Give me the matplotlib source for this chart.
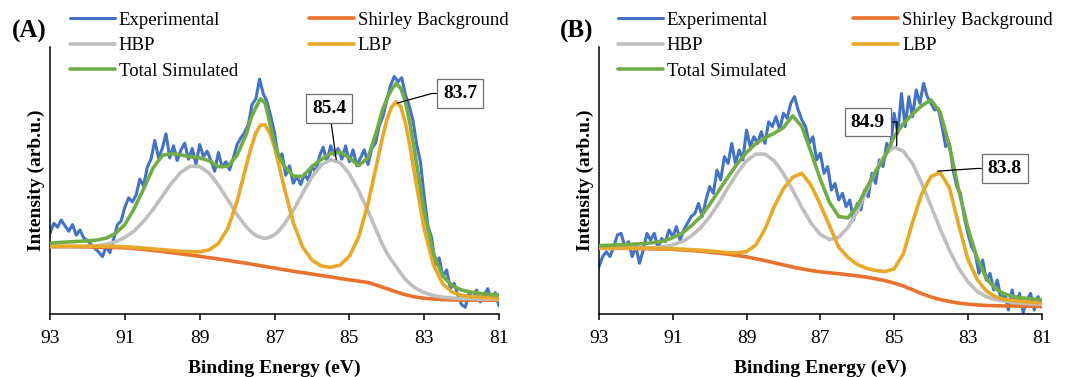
import matplotlib
matplotlib.use('Agg')
import matplotlib.pyplot as plt

plt.rcParams['font.family'] = ['Liberation Serif', 'DejaVu Serif']

# energy grid of the fitted curves, panel A (eV) - denser around the narrow peaks
energy_fit_a = [93.0, 92.75, 92.5, 92.25, 92.0, 91.75, 91.5, 91.25, 91.0, 90.75,
                90.5, 90.25, 90.0, 89.75, 89.5, 89.25, 89.0, 88.75, 88.5, 88.25,
                88.0, 87.75, 87.625, 87.5, 87.375, 87.25, 87.125, 87.0, 86.875, 86.75,
                86.5, 86.25, 86.0, 85.75, 85.5, 85.25, 85.0, 84.75, 84.5, 84.25,
                84.125, 84.0, 83.875, 83.75, 83.625, 83.5, 83.375, 83.25, 83.0, 82.75,
                82.5, 82.25, 82.0, 81.75, 81.5, 81.25, 81.0]

# energy grid of the fitted curves, panel B (eV)
energy_fit_b = [93.0, 92.75, 92.5, 92.25, 92.0, 91.75, 91.5, 91.25, 91.0, 90.75,
                90.5, 90.25, 90.0, 89.75, 89.5, 89.25, 89.0, 88.75, 88.5, 88.25,
                88.0, 87.75, 87.5, 87.25, 87.0, 86.75, 86.5, 86.25, 86.0, 85.75,
                85.5, 85.25, 85.0, 84.75, 84.5, 84.25, 84.0, 83.75, 83.5, 83.25,
                83.0, 82.75, 82.5, 82.25, 82.0, 81.75, 81.5, 81.25, 81.0]

# energy grid of the measured spectra (eV)
energy_exp = [93.0, 92.9, 92.8, 92.7, 92.6, 92.5, 92.4, 92.3, 92.2, 92.1,
              92.0, 91.9, 91.8, 91.7, 91.6, 91.5, 91.4, 91.3, 91.2, 91.1,
              91.0, 90.9, 90.8, 90.7, 90.6, 90.5, 90.4, 90.3, 90.2, 90.1,
              90.0, 89.9, 89.8, 89.7, 89.6, 89.5, 89.4, 89.3, 89.2, 89.1,
              89.0, 88.9, 88.8, 88.7, 88.6, 88.5, 88.4, 88.3, 88.2, 88.1,
              88.0, 87.9, 87.8, 87.7, 87.6, 87.5, 87.4, 87.3, 87.2, 87.1,
              87.0, 86.9, 86.8, 86.7, 86.6, 86.5, 86.4, 86.3, 86.2, 86.1,
              86.0, 85.9, 85.8, 85.7, 85.6, 85.5, 85.4, 85.3, 85.2, 85.1,
              85.0, 84.9, 84.8, 84.7, 84.6, 84.5, 84.4, 84.3, 84.2, 84.1,
              84.0, 83.9, 83.8, 83.7, 83.6, 83.5, 83.4, 83.3, 83.2, 83.1,
              83.0, 82.9, 82.8, 82.7, 82.6, 82.5, 82.4, 82.3, 82.2, 82.1,
              82.0, 81.9, 81.8, 81.7, 81.6, 81.5, 81.4, 81.3, 81.2, 81.1,
              81.0]

# ---- panel A ----
exp_a = [30.2, 34.0, 32.5, 35.2, 33.0, 31.0, 33.5, 29.5, 31.5, 28.5,
         27.5, 26.0, 24.5, 23.2, 21.5, 25.2, 23.0, 28.0, 33.5, 34.8,
         40.0, 43.5, 42.0, 44.5, 50.5, 48.0, 55.0, 58.0, 65.0, 58.5,
         62.0, 67.5, 58.5, 63.0, 57.5, 61.5, 64.0, 58.0, 62.0, 56.0,
         63.5, 59.0, 61.0, 57.5, 53.5, 60.5, 55.0, 57.0, 54.0, 58.5,
         63.5, 66.0, 68.0, 71.0, 78.5, 80.5, 88.0, 82.5, 79.5, 74.0,
         68.0, 58.5, 60.0, 52.0, 55.5, 49.0, 51.5, 48.5, 52.5, 50.0,
         55.5, 53.0, 59.0, 62.5, 57.0, 63.0, 59.5, 62.0, 58.0, 63.0,
         57.0, 61.5, 55.5, 58.5, 61.5, 56.0, 62.0, 64.0, 70.5, 74.0,
         80.0, 85.5, 89.0, 87.0, 88.5, 82.0, 78.0, 72.5, 63.5, 57.0,
         44.0, 33.0, 28.5, 18.5, 21.0, 14.0, 16.5, 9.5, 11.5, 7.0,
         3.5, 2.5, 8.0, 5.5, 9.0, 4.5, 7.0, 9.5, 5.0, 8.0,
         3.0]
shirley_a = [25.2, 25.2, 25.2, 25.1, 25.1, 25.0, 25.0, 24.9, 24.8, 24.5,
             24.2, 23.8, 23.4, 23.0, 22.5, 22.1, 21.6, 21.1, 20.6, 20.1,
             19.5, 19.0, 18.7, 18.4, 18.1, 17.8, 17.5, 17.2, 16.9, 16.6,
             16.0, 15.5, 15.0, 14.4, 13.9, 13.3, 12.8, 12.3, 11.8, 10.7,
             10.1, 9.5, 8.9, 8.3, 7.75, 7.2, 6.8, 6.4, 5.9, 5.6,
             5.4, 5.3, 5.2, 5.2, 5.2, 5.2, 5.2]
hbp_a = [25.2, 25.2, 25.2, 25.2, 25.3, 25.5, 26.1, 27.0, 28.7, 31.1,
         34.7, 39.1, 44.1, 49.1, 53.1, 55.4, 55.2, 52.8, 48.3, 42.8,
         37.2, 32.5, 30.8, 29.4, 28.7, 28.3, 28.8, 29.7, 31.3, 33.4,
         38.7, 45.2, 51.3, 55.9, 57.8, 56.7, 52.5, 46.1, 38.6, 30.3,
         26.4, 22.9, 20.2, 17.8, 15.2, 13.0, 11.3, 9.8, 8.0, 6.9,
         6.3, 6.0, 5.8, 5.7, 5.6, 5.6, 5.6]
lbp_a = [25.4, 25.4, 25.4, 25.4, 25.4, 25.4, 25.4, 25.3, 25.2, 25.0,
         24.7, 24.4, 24.1, 23.8, 23.5, 23.3, 23.3, 24.0, 26.4, 32.0,
         42.2, 55.8, 62.4, 67.7, 70.8, 70.8, 67.8, 62.4, 55.3, 47.9,
         34.3, 25.1, 20.2, 18.0, 17.5, 18.3, 21.6, 28.9, 41.4, 57.3,
         65.5, 72.6, 77.5, 79.5, 77.6, 71.5, 62.4, 51.8, 31.9, 18.3,
         11.2, 8.2, 7.0, 6.5, 6.3, 6.1, 5.9]
total_a = [26.5, 26.8, 27.0, 27.2, 27.4, 27.7, 28.4, 30.2, 33.5, 39.5,
           46.8, 54.6, 59.4, 60.1, 59.6, 58.9, 58.5, 57.4, 55.2, 55.3,
           59.5, 67.5, 73.5, 77.3, 80.6, 79.0, 71.5, 64.0, 59.0, 55.5,
           51.7, 51.5, 55.2, 57.9, 60.1, 60.6, 58.5, 55.6, 58.5, 69.5,
           76.0, 80.5, 84.0, 86.4, 84.5, 79.5, 71.0, 60.5, 38.5, 22.5,
           14.2, 10.6, 9.0, 8.2, 7.7, 7.3, 7.1]

# ---- panel B ----
exp_b = [17.7, 21.5, 23.3, 21.5, 25.2, 29.6, 30.2, 25.2, 27.1, 21.5,
         25.2, 19.0, 24.0, 30.2, 27.7, 30.2, 24.6, 28.3, 27.1, 31.5,
         29.0, 32.7, 27.7, 31.5, 34.0, 36.5, 37.7, 41.4, 36.5, 42.7,
         47.7, 45.2, 53.9, 50.2, 58.9, 56.4, 63.9, 56.4, 61.4, 57.7,
         68.9, 62.7, 66.4, 63.9, 68.3, 63.9, 72.0, 70.2, 73.9, 68.9,
         75.2, 73.3, 78.9, 81.4, 76.4, 72.7, 70.2, 63.9, 66.4, 57.7,
         60.2, 52.7, 55.2, 46.4, 48.9, 42.7, 45.2, 40.2, 42.7, 35.2,
         41.4, 39.0, 46.4, 43.9, 52.7, 48.9, 57.7, 55.2, 63.9, 61.4,
         75.2, 67.7, 82.6, 70.2, 81.4, 73.9, 83.9, 78.9, 86.4, 81.4,
         78.9, 76.4, 77.0, 70.2, 62.7, 63.9, 53.9, 47.7, 45.2, 36.5,
         30.2, 25.2, 22.7, 15.2, 20.2, 12.7, 15.2, 9.0, 12.7, 5.2,
         7.7, 1.5, 9.0, 2.7, 7.7, 0.5, 5.2, 7.7, 1.5, 6.5,
         2.7]
shirley_b = [24.6, 24.6, 24.6, 24.6, 24.5, 24.5, 24.4, 24.3, 24.2, 24.0,
             23.8, 23.5, 23.2, 22.8, 22.4, 21.9, 21.4, 20.7, 20.0, 19.2,
             18.4, 17.6, 16.9, 16.3, 15.8, 15.4, 15.1, 14.7, 14.3, 13.8,
             13.2, 12.5, 11.6, 10.5, 9.1, 7.6, 6.4, 5.4, 4.7, 4.1,
             3.7, 3.4, 3.2, 3.1, 3.0, 3.0, 2.9, 2.9, 2.8]
hbp_b = [24.6, 24.6, 24.6, 24.6, 24.6, 24.7, 24.8, 25.2, 25.9, 27.1,
         29.2, 32.2, 36.4, 41.5, 47.3, 52.8, 57.4, 59.9, 59.9, 57.4,
         52.6, 46.4, 39.9, 34.0, 29.8, 27.9, 28.8, 32.4, 38.4, 46.0,
         53.7, 59.7, 62.5, 61.0, 56.3, 49.0, 40.5, 31.8, 23.9, 17.2,
         12.1, 8.5, 6.5, 5.4, 4.8, 4.3, 4.0, 3.8, 3.7]
lbp_b = [24.7, 24.7, 24.7, 24.7, 24.6, 24.6, 24.6, 24.5, 24.4, 24.3,
         24.1, 23.9, 23.6, 23.3, 23.0, 22.9, 23.4, 25.8, 31.8, 40.2,
         46.9, 51.2, 52.7, 48.2, 41.0, 33.0, 25.0, 21.2, 18.6, 17.1,
         16.3, 15.9, 16.9, 22.5, 34.3, 45.0, 51.5, 53.0, 47.3, 33.5,
         20.5, 13.0, 8.6, 6.5, 5.4, 5.0, 4.7, 4.4, 4.2]
total_b = [25.6, 25.7, 25.9, 26.0, 26.2, 26.4, 26.8, 27.3, 28.6, 30.2,
           33.0, 36.3, 41.0, 46.2, 51.4, 56.3, 60.5, 63.8, 66.0, 67.7,
           69.8, 74.2, 70.2, 60.6, 50.5, 41.8, 36.5, 36.0, 40.3, 47.1,
           53.3, 58.9, 66.4, 71.3, 74.9, 78.0, 80.2, 75.5, 63.0, 46.5,
           32.3, 21.0, 13.3, 9.5, 7.4, 6.5, 6.0, 5.6, 5.2]

# peak labels: (text, peak energy, peak intensity, box energy, box intensity, side)
labels_a = [('85.4', 85.35, 57.8, 85.54, 77.0, 'below'),
            ('83.7', 83.72, 79.0, 82.04, 82.6, 'left')]
labels_b = [('84.9', 84.93, 63.0, 85.71, 71.9, 'right'),
            ('83.8', 83.82, 53.5, 82.00, 54.5, 'left')]

series_names = ['Experimental', 'Shirley Background', 'HBP', 'LBP', 'Total Simulated']
colors = ['#4472C4', '#E9722E', '#BFBFBF', '#E8A92A', '#70AD47']
legend_order = [0, 2, 4, 1, 3]
xticks = [93, 91, 89, 87, 85, 83, 81]

fig = plt.figure(figsize=(10.69, 3.77), dpi=100)
ax_a = fig.add_axes([0.0468, 0.1671, 0.4200, 0.7082])
ax_b = fig.add_axes([0.5603, 0.1671, 0.4141, 0.7082])


def draw_panel(ax, energy_fit, exp, shirley, hbp, lbp, total, labels,
               letter, letter_x, leg_x, colspace):
    curves = [(energy_exp, exp), (energy_fit, shirley), (energy_fit, hbp),
              (energy_fit, lbp), (energy_fit, total)]
    lines = []
    for i, (x, y) in enumerate(curves):
        ln, = ax.plot(x, y, color=colors[i], lw=2.2 if i == 0 else 2.6,
                      label=series_names[i], zorder=2 + i,
                      solid_capstyle='round', solid_joinstyle='round')
        lines.append(ln)

    ax.set_xlim(93, 81)
    ax.set_ylim(0, 100)
    ax.set_xticks(xticks)
    ax.set_yticks([])
    ax.spines['top'].set_visible(False)
    ax.spines['right'].set_visible(False)
    ax.spines['left'].set_linewidth(1.1)
    ax.spines['bottom'].set_linewidth(1.1)
    ax.tick_params(axis='x', direction='out', length=4, width=1.1, labelsize=14, pad=7.5)
    ax.set_xlabel('Binding Energy (eV)', fontsize=14, fontweight='bold')
    ax.xaxis.set_label_coords(0.5, -0.17)
    ax.set_ylabel('Intensity (arb.u.)', fontsize=14, fontweight='bold')
    ax.yaxis.set_label_coords(-0.012, 0.5)

    for text, px, py, tx, ty, side in labels:
        if side == 'below':
            arrow = dict(arrowstyle='-', color='black', lw=0.9, shrinkA=0, shrinkB=0)
        elif side == 'left':
            arrow = dict(arrowstyle='-', color='black', lw=0.9, shrinkA=0, shrinkB=0,
                         relpos=(0, 0.5),
                         connectionstyle='arc,angleA=180,armA=11,angleB=0,armB=0,rad=0')
        else:
            arrow = dict(arrowstyle='-', color='black', lw=0.9, shrinkA=0, shrinkB=0,
                         relpos=(1, 0.5),
                         connectionstyle='arc,angleA=0,armA=12,angleB=0,armB=0,rad=0')
        ax.annotate(text, xy=(px, py), xytext=(tx, ty), ha='center', va='center',
                    fontsize=14, fontweight='bold', zorder=10,
                    bbox=dict(boxstyle='square,pad=0.3', fc='white', ec='#6E6E6E', lw=0.9),
                    arrowprops=arrow)

    ax.legend([lines[i] for i in legend_order], [series_names[i] for i in legend_order],
              loc='upper left', bbox_to_anchor=(leg_x, 0.969), bbox_transform=fig.transFigure,
              ncol=2, frameon=False, fontsize=13.5, handlelength=2.4, handletextpad=0.2,
              columnspacing=colspace, labelspacing=0.44, borderpad=0, borderaxespad=0)

    fig.text(letter_x, 1 - 31 / 377, letter, fontsize=18, fontweight='bold',
             ha='left', va='center')


draw_panel(ax_a, energy_fit_a, exp_a, shirley_a, hbp_a, lbp_a, total_a, labels_a,
           '(A)', 12 / 1069, 70 / 1069, 3.8)
draw_panel(ax_b, energy_fit_b, exp_b, shirley_b, hbp_b, lbp_b, total_b, labels_b,
           '(B)', 560 / 1069, 618 / 1069, 3.6)

fig.savefig('out.png', dpi=100)
